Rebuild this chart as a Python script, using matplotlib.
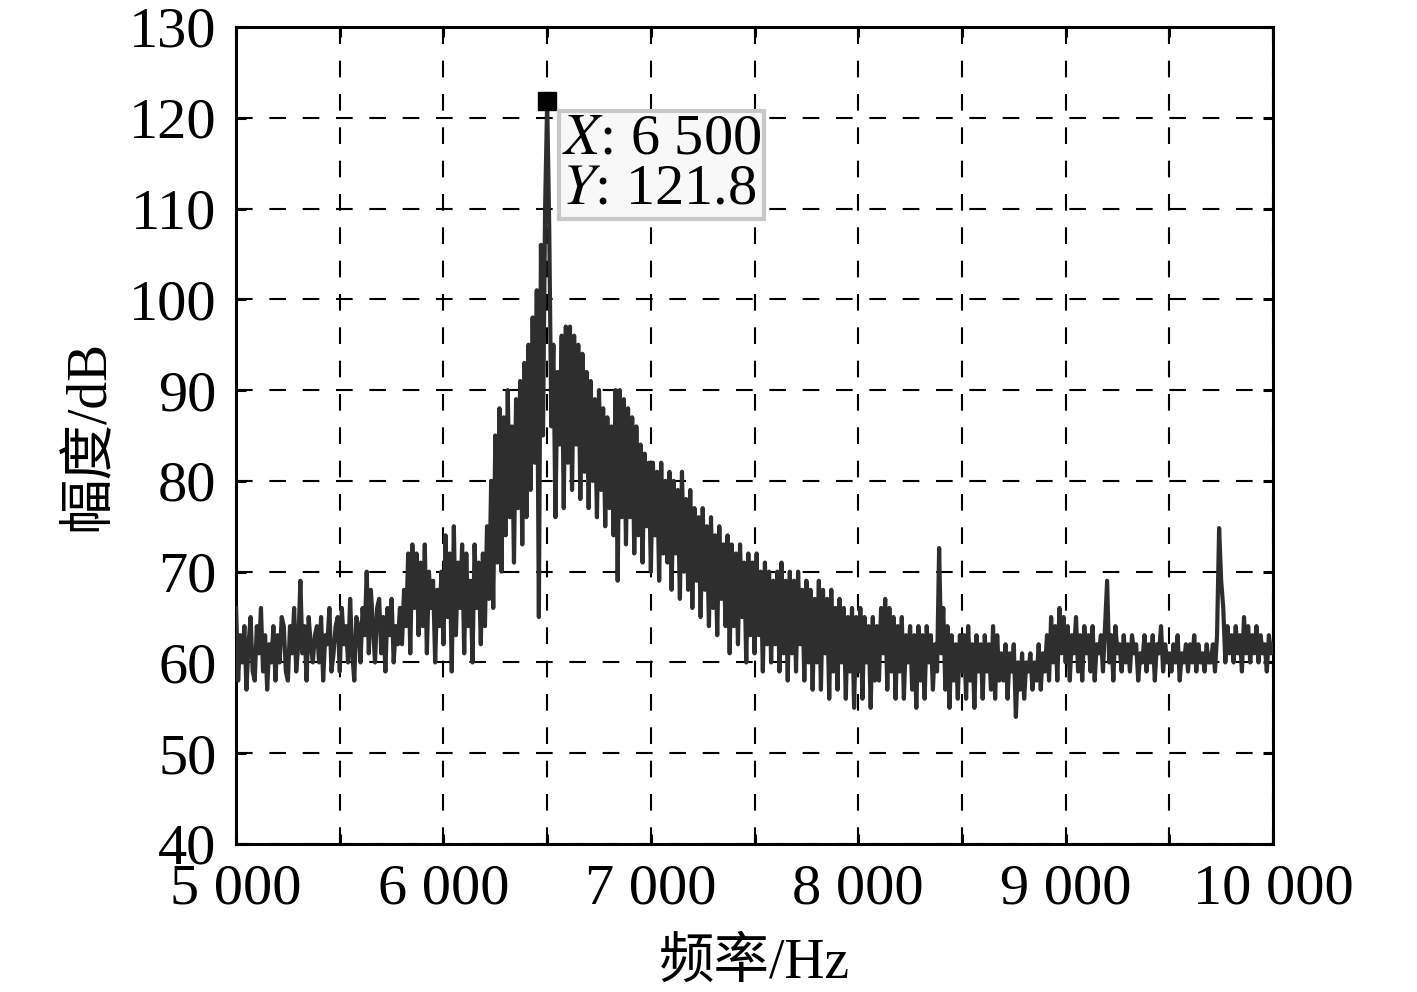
import numpy as np
import matplotlib
matplotlib.use("Agg")
import matplotlib.pyplot as plt
from matplotlib.ticker import FuncFormatter

# amplitude spectrum, 10 Hz step from 5000 Hz to 10000 Hz
f_start, f_stop = 5000, 10000
amp = [
    66, 58, 63, 60, 64, 57, 62, 65, 59, 58,      # 5000
    64, 61, 66, 59, 63, 57, 62, 60, 64, 58,      # 5100
    63, 60, 65, 64, 59, 58, 64, 61, 66, 59,      # 5200
    62, 69, 61, 64, 58, 65, 62, 60, 63, 64,      # 5300
    60, 65, 58, 63, 62, 66, 59, 61, 64, 65,      # 5400
    59, 66, 62, 64, 60, 67, 61, 58, 65, 64,      # 5500
    60, 66, 63, 70, 61, 68, 64, 60, 66, 67,      # 5600
    61, 65, 59, 66, 63, 67, 60, 64, 62, 66,      # 5700
    62, 68, 64, 72, 61, 73, 66, 72, 63, 71,      # 5800
    64, 73, 61, 70, 66, 69, 60, 68, 64, 70,      # 5900
    62, 74, 65, 72, 59, 75, 63, 71, 66, 73,      # 6000
    61, 72, 64, 69, 60, 73, 66, 71, 62, 72,      # 6100
    64, 75, 67, 80, 66, 85, 71, 88, 70, 87,      # 6200
    74, 90, 76, 86, 71, 89, 77, 91, 73, 93,      # 6300
    76, 95, 79, 98, 82, 101, 65, 106, 85, 110,   # 6400
    121.8, 108, 86, 95, 76, 92, 84, 96, 77, 97,  # 6500
    82, 97, 79, 96, 84, 95, 78, 94, 81, 92,      # 6600
    77, 91, 80, 89, 76, 90, 79, 88, 75, 87,      # 6700
    77, 86, 74, 90, 69, 90, 76, 89, 73, 88,      # 6800
    76, 87, 72, 86, 74, 84, 71, 83, 75, 82,      # 6900
    70, 82, 74, 81, 69, 82, 72, 80, 71, 81,      # 7000
    68, 80, 72, 79, 67, 81, 70, 78, 68, 79,      # 7100
    66, 77, 69, 76, 65, 77, 68, 75, 64, 76,      # 7200
    66, 74, 63, 75, 67, 73, 64, 74, 61, 73,      # 7300
    64, 72, 62, 73, 65, 71, 60, 72, 63, 71,      # 7400
    61, 72, 63, 70, 59, 71, 62, 70, 60, 69,      # 7500
    62, 70, 59, 71, 61, 69, 58, 70, 61, 69,      # 7600
    59, 70, 62, 68, 58, 69, 60, 68, 57, 67,      # 7700
    60, 69, 57, 68, 61, 67, 56, 68, 59, 66,      # 7800
    57, 67, 60, 66, 56, 65, 59, 66, 55, 65,      # 7900
    59, 66, 56, 65, 60, 64, 55, 65, 58, 64,      # 8000
    58, 66, 61, 67, 57, 66, 59, 65, 56, 64,      # 8100
    59, 65, 56, 63, 60, 64, 57, 63, 55, 64,      # 8200
    58, 63, 56, 64, 60, 63, 57, 62, 59, 72.6,    # 8300
    61, 66, 57, 64, 55, 63, 58, 62, 56, 63,      # 8400
    59, 63, 56, 64, 58, 62, 55, 63, 59, 62,      # 8500
    56, 63, 59, 62, 57, 64, 56, 63, 58, 61,      # 8600
    58, 62, 56, 61, 59, 62, 54, 60, 57, 61,      # 8700
    56, 60, 59, 61, 57, 60, 58, 62, 57, 61,      # 8800
    59, 63, 58, 65, 60, 64, 58, 66, 61, 65,      # 8900
    60, 64, 58, 63, 61, 65, 59, 63, 58, 64,      # 9000
    61, 63, 59, 64, 58, 62, 61, 63, 59, 64,      # 9100
    69, 60, 63, 58, 64, 61, 62, 59, 63, 60,      # 9200
    62, 59, 63, 61, 62, 58, 61, 60, 63, 59,      # 9300
    62, 60, 63, 58, 62, 61, 64, 59, 62, 60,      # 9400
    61, 59, 62, 60, 63, 58, 61, 60, 62, 59,      # 9500
    62, 60, 63, 59, 62, 60, 61, 59, 62, 60,      # 9600
    60, 62, 59, 63, 74.8, 69, 66, 60, 64, 61,    # 9700
    63, 60, 64, 61, 63, 59, 65, 61, 64, 60,      # 9800
    63, 61, 64, 60, 63, 61, 62, 59, 63, 61,      # 9900
    62,                                          # 10000
]
freq = np.linspace(f_start, f_stop, len(amp))

peak_x = 6500
peak_y = 121.8

x_ticks = [5000, 5500, 6000, 6500, 7000, 7500, 8000, 8500, 9000, 9500, 10000]
y_ticks = [40, 50, 60, 70, 80, 90, 100, 110, 120, 130]

xlabel = "频率/Hz"
ylabel = "幅度/dB"

plt.rcParams['font.family'] = ['Liberation Serif', 'Noto Sans CJK SC']
plt.rcParams['mathtext.fontset'] = 'stix'

fig = plt.figure(figsize=(14.17, 9.92), dpi=100)
ax = fig.add_axes([0.1666, 0.1492, 0.7318, 0.8236])

ax.plot(freq, amp, color='#2e2e2e', linewidth=3.0, zorder=3)
ax.plot([peak_x], [peak_y], marker='s', color='black', markersize=13,
        linestyle='none', zorder=5, clip_on=False)

ax.set_xlim(5000, 10000)
ax.set_ylim(40, 130)
ax.set_xticks(x_ticks)
ax.set_yticks(y_ticks)

def fmt_x(v, pos):
    v = int(round(v))
    if v % 1000 != 0:
        return ''
    return f"{v:,}".replace(',', ' ')

ax.xaxis.set_major_formatter(FuncFormatter(fmt_x))

ax.grid(True, color='black', linestyle=(0, (8, 8)), linewidth=1.5)
for s in ax.spines.values():
    s.set_linewidth(2.2)
ax.tick_params(direction='in', length=7, width=2.2, top=True, right=True,
               labelsize=42, pad=14)

ax.set_xlabel(xlabel, fontsize=40, labelpad=16)
ax.set_ylabel(ylabel, fontsize=40, labelpad=10)

ax.text(6572, 114.8, "$\\it{X}$: 6 500\n$\\it{Y}$: 121.8", fontsize=42,
        ha='left', va='center', linespacing=0.95, zorder=6,
        bbox=dict(boxstyle='square,pad=0.05', facecolor='#f8f8f8',
                  edgecolor='#c8c8c8', linewidth=3))

fig.savefig("out.png", dpi=100)
